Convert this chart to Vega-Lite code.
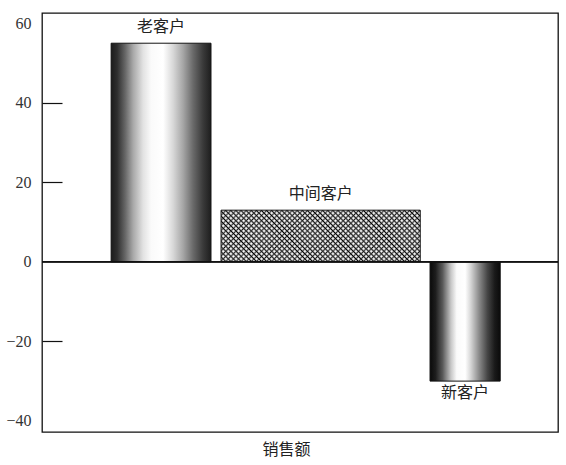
{
 "$schema": "https://vega.github.io/schema/vega-lite/v6.json",
 "width": 516,
 "height": 419,
 "autosize": {"type": "none"},
 "padding": {"left": 42, "top": 13, "right": 8, "bottom": 33},
 "config": {"view": {"stroke": "#111", "strokeWidth": 1.3}, "font": "Noto Sans CJK SC"},
 "data": {"values": [
  {"group": "老客户", "value": 55, "start": 13.4, "end": 32.75},
  {"group": "中间客户", "value": 13, "start": 34.7, "end": 73.3},
  {"group": "新客户", "value": -30, "start": 75.2, "end": 88.8}
 ]},
 "layer": [
  {
   "transform": [{"filter": "datum.group == '老客户'"}],
   "mark": {"type": "bar", "stroke": "#111", "strokeWidth": 1,
    "fill": {"gradient": "linear", "x1": 0, "y1": 0, "x2": 1, "y2": 0, "stops": [
     {"offset": 0, "color": "#1c1c1c"}, {"offset": 0.06, "color": "#2e2e2e"}, {"offset": 0.14, "color": "#666"},
     {"offset": 0.22, "color": "#a8a8a8"}, {"offset": 0.32, "color": "#e2e2e2"}, {"offset": 0.4, "color": "#fafafa"},
     {"offset": 0.52, "color": "#ffffff"}, {"offset": 0.62, "color": "#d8d8d8"}, {"offset": 0.72, "color": "#a6a6a6"},
     {"offset": 0.82, "color": "#6a6a6a"}, {"offset": 0.92, "color": "#3a3a3a"}, {"offset": 1, "color": "#1e1e1e"}]}},
   "encoding": {
    "x": {"field": "start", "type": "quantitative", "scale": {"domain": [0, 100], "nice": false, "zero": false},
     "axis": {"title": "销售额", "titleFont": "Noto Sans CJK SC", "titleFontSize": 16, "titleFontWeight": "normal", "titleColor": "#222",
      "labels": false, "ticks": false, "domain": false, "grid": false, "titlePadding": 9, "titleX": 244}},
    "x2": {"field": "end"},
    "y": {"field": "value", "type": "quantitative", "scale": {"domain": [-42.8, 62.6], "nice": false, "zero": false},
     "axis": {"values": [-40, -20, 0, 20, 40, 60], "title": null, "grid": false, "domain": false, "ticks": true,
      "tickSize": -20, "tickColor": "#111", "tickWidth": 1.2,
      "tickOpacity": {"condition": {"test": "datum.value == 60 || datum.value == -40 || datum.value == 0", "value": 0}, "value": 1},
      "labelFont": "Liberation Serif", "labelFontSize": 16, "labelColor": "#333", "labelPadding": 31}},
    "y2": {"datum": 0}
   }
  },
  {
   "transform": [{"filter": "datum.group == '新客户'"}],
   "mark": {"type": "bar", "stroke": "#111", "strokeWidth": 1,
    "fill": {"gradient": "linear", "x1": 0, "y1": 0, "x2": 1, "y2": 0, "stops": [
     {"offset": 0, "color": "#0a0a0a"}, {"offset": 0.08, "color": "#1e1e1e"}, {"offset": 0.18, "color": "#5a5a5a"},
     {"offset": 0.3, "color": "#c8c8c8"}, {"offset": 0.38, "color": "#fafafa"}, {"offset": 0.5, "color": "#ffffff"},
     {"offset": 0.58, "color": "#d6d6d6"}, {"offset": 0.7, "color": "#8a8a8a"}, {"offset": 0.82, "color": "#444"},
     {"offset": 0.92, "color": "#1a1a1a"}, {"offset": 1, "color": "#0a0a0a"}]}},
   "encoding": {
    "x": {"field": "start", "type": "quantitative"},
    "x2": {"field": "end"},
    "y": {"field": "value", "type": "quantitative"},
    "y2": {"datum": 0}
   }
  },
  {
   "transform": [{"filter": "datum.group == '中间客户'"}],
   "mark": {"type": "bar", "fill": "#ffffff", "strokeWidth": 0},
   "encoding": {
    "x": {"field": "start", "type": "quantitative"},
    "x2": {"field": "end"},
    "y": {"field": "value", "type": "quantitative"},
    "y2": {"datum": 0}
   }
  },
  {
   "transform": [{"filter": "datum.group == '中间客户'"}],
   "mark": {"type": "bar", "strokeWidth": 0,
    "fill": {"gradient": "linear", "x1": 0, "y1": 0, "x2": 1.2, "y2": 0.312, "stops": [
{"offset":0,"color":"#000"},{"offset":0.01,"color":"rgba(255,255,255,0)"},{"offset":0.02,"color":"#000"},{"offset":0.03,"color":"rgba(255,255,255,0)"},{"offset":0.04,"color":"#000"},{"offset":0.05,"color":"rgba(255,255,255,0)"},{"offset":0.06,"color":"#000"},{"offset":0.07,"color":"rgba(255,255,255,0)"},{"offset":0.08,"color":"#000"},{"offset":0.09,"color":"rgba(255,255,255,0)"},
{"offset":0.1,"color":"#000"},{"offset":0.11,"color":"rgba(255,255,255,0)"},{"offset":0.12,"color":"#000"},{"offset":0.13,"color":"rgba(255,255,255,0)"},{"offset":0.14,"color":"#000"},{"offset":0.15,"color":"rgba(255,255,255,0)"},{"offset":0.16,"color":"#000"},{"offset":0.17,"color":"rgba(255,255,255,0)"},{"offset":0.18,"color":"#000"},{"offset":0.19,"color":"rgba(255,255,255,0)"},
{"offset":0.2,"color":"#000"},{"offset":0.21,"color":"rgba(255,255,255,0)"},{"offset":0.22,"color":"#000"},{"offset":0.23,"color":"rgba(255,255,255,0)"},{"offset":0.24,"color":"#000"},{"offset":0.25,"color":"rgba(255,255,255,0)"},{"offset":0.26,"color":"#000"},{"offset":0.27,"color":"rgba(255,255,255,0)"},{"offset":0.28,"color":"#000"},{"offset":0.29,"color":"rgba(255,255,255,0)"},
{"offset":0.3,"color":"#000"},{"offset":0.31,"color":"rgba(255,255,255,0)"},{"offset":0.32,"color":"#000"},{"offset":0.33,"color":"rgba(255,255,255,0)"},{"offset":0.34,"color":"#000"},{"offset":0.35,"color":"rgba(255,255,255,0)"},{"offset":0.36,"color":"#000"},{"offset":0.37,"color":"rgba(255,255,255,0)"},{"offset":0.38,"color":"#000"},{"offset":0.39,"color":"rgba(255,255,255,0)"},
{"offset":0.4,"color":"#000"},{"offset":0.41,"color":"rgba(255,255,255,0)"},{"offset":0.42,"color":"#000"},{"offset":0.43,"color":"rgba(255,255,255,0)"},{"offset":0.44,"color":"#000"},{"offset":0.45,"color":"rgba(255,255,255,0)"},{"offset":0.46,"color":"#000"},{"offset":0.47,"color":"rgba(255,255,255,0)"},{"offset":0.48,"color":"#000"},{"offset":0.49,"color":"rgba(255,255,255,0)"},
{"offset":0.5,"color":"#000"},{"offset":0.51,"color":"rgba(255,255,255,0)"},{"offset":0.52,"color":"#000"},{"offset":0.53,"color":"rgba(255,255,255,0)"},{"offset":0.54,"color":"#000"},{"offset":0.55,"color":"rgba(255,255,255,0)"},{"offset":0.56,"color":"#000"},{"offset":0.57,"color":"rgba(255,255,255,0)"},{"offset":0.58,"color":"#000"},{"offset":0.59,"color":"rgba(255,255,255,0)"},
{"offset":0.6,"color":"#000"},{"offset":0.61,"color":"rgba(255,255,255,0)"},{"offset":0.62,"color":"#000"},{"offset":0.63,"color":"rgba(255,255,255,0)"},{"offset":0.64,"color":"#000"},{"offset":0.65,"color":"rgba(255,255,255,0)"},{"offset":0.66,"color":"#000"},{"offset":0.67,"color":"rgba(255,255,255,0)"},{"offset":0.68,"color":"#000"},{"offset":0.69,"color":"rgba(255,255,255,0)"},
{"offset":0.7,"color":"#000"},{"offset":0.71,"color":"rgba(255,255,255,0)"},{"offset":0.72,"color":"#000"},{"offset":0.73,"color":"rgba(255,255,255,0)"},{"offset":0.74,"color":"#000"},{"offset":0.75,"color":"rgba(255,255,255,0)"},{"offset":0.76,"color":"#000"},{"offset":0.77,"color":"rgba(255,255,255,0)"},{"offset":0.78,"color":"#000"},{"offset":0.79,"color":"rgba(255,255,255,0)"},
{"offset":0.8,"color":"#000"},{"offset":0.81,"color":"rgba(255,255,255,0)"},{"offset":0.82,"color":"#000"},{"offset":0.83,"color":"rgba(255,255,255,0)"},{"offset":0.84,"color":"#000"},{"offset":0.85,"color":"rgba(255,255,255,0)"},{"offset":0.86,"color":"#000"},{"offset":0.87,"color":"rgba(255,255,255,0)"},{"offset":0.88,"color":"#000"},{"offset":0.89,"color":"rgba(255,255,255,0)"},
{"offset":0.9,"color":"#000"},{"offset":0.91,"color":"rgba(255,255,255,0)"},{"offset":0.92,"color":"#000"},{"offset":0.93,"color":"rgba(255,255,255,0)"},{"offset":0.94,"color":"#000"},{"offset":0.95,"color":"rgba(255,255,255,0)"},{"offset":0.96,"color":"#000"},{"offset":0.97,"color":"rgba(255,255,255,0)"},{"offset":0.98,"color":"#000"},{"offset":0.99,"color":"rgba(255,255,255,0)"},{"offset":1,"color":"#000"}
    ]}},
   "encoding": {
    "x": {"field": "start", "type": "quantitative"},
    "x2": {"field": "end"},
    "y": {"field": "value", "type": "quantitative"},
    "y2": {"datum": 0}
   }
  },
  {
   "transform": [{"filter": "datum.group == '中间客户'"}],
   "mark": {"type": "bar", "stroke": "#111", "strokeWidth": 1,
    "fill": {"gradient": "linear", "x1": 0, "y1": 1, "x2": 1.2, "y2": 0.688, "stops": [
{"offset":0,"color":"#000"},{"offset":0.01,"color":"rgba(255,255,255,0)"},{"offset":0.02,"color":"#000"},{"offset":0.03,"color":"rgba(255,255,255,0)"},{"offset":0.04,"color":"#000"},{"offset":0.05,"color":"rgba(255,255,255,0)"},{"offset":0.06,"color":"#000"},{"offset":0.07,"color":"rgba(255,255,255,0)"},{"offset":0.08,"color":"#000"},{"offset":0.09,"color":"rgba(255,255,255,0)"},
{"offset":0.1,"color":"#000"},{"offset":0.11,"color":"rgba(255,255,255,0)"},{"offset":0.12,"color":"#000"},{"offset":0.13,"color":"rgba(255,255,255,0)"},{"offset":0.14,"color":"#000"},{"offset":0.15,"color":"rgba(255,255,255,0)"},{"offset":0.16,"color":"#000"},{"offset":0.17,"color":"rgba(255,255,255,0)"},{"offset":0.18,"color":"#000"},{"offset":0.19,"color":"rgba(255,255,255,0)"},
{"offset":0.2,"color":"#000"},{"offset":0.21,"color":"rgba(255,255,255,0)"},{"offset":0.22,"color":"#000"},{"offset":0.23,"color":"rgba(255,255,255,0)"},{"offset":0.24,"color":"#000"},{"offset":0.25,"color":"rgba(255,255,255,0)"},{"offset":0.26,"color":"#000"},{"offset":0.27,"color":"rgba(255,255,255,0)"},{"offset":0.28,"color":"#000"},{"offset":0.29,"color":"rgba(255,255,255,0)"},
{"offset":0.3,"color":"#000"},{"offset":0.31,"color":"rgba(255,255,255,0)"},{"offset":0.32,"color":"#000"},{"offset":0.33,"color":"rgba(255,255,255,0)"},{"offset":0.34,"color":"#000"},{"offset":0.35,"color":"rgba(255,255,255,0)"},{"offset":0.36,"color":"#000"},{"offset":0.37,"color":"rgba(255,255,255,0)"},{"offset":0.38,"color":"#000"},{"offset":0.39,"color":"rgba(255,255,255,0)"},
{"offset":0.4,"color":"#000"},{"offset":0.41,"color":"rgba(255,255,255,0)"},{"offset":0.42,"color":"#000"},{"offset":0.43,"color":"rgba(255,255,255,0)"},{"offset":0.44,"color":"#000"},{"offset":0.45,"color":"rgba(255,255,255,0)"},{"offset":0.46,"color":"#000"},{"offset":0.47,"color":"rgba(255,255,255,0)"},{"offset":0.48,"color":"#000"},{"offset":0.49,"color":"rgba(255,255,255,0)"},
{"offset":0.5,"color":"#000"},{"offset":0.51,"color":"rgba(255,255,255,0)"},{"offset":0.52,"color":"#000"},{"offset":0.53,"color":"rgba(255,255,255,0)"},{"offset":0.54,"color":"#000"},{"offset":0.55,"color":"rgba(255,255,255,0)"},{"offset":0.56,"color":"#000"},{"offset":0.57,"color":"rgba(255,255,255,0)"},{"offset":0.58,"color":"#000"},{"offset":0.59,"color":"rgba(255,255,255,0)"},
{"offset":0.6,"color":"#000"},{"offset":0.61,"color":"rgba(255,255,255,0)"},{"offset":0.62,"color":"#000"},{"offset":0.63,"color":"rgba(255,255,255,0)"},{"offset":0.64,"color":"#000"},{"offset":0.65,"color":"rgba(255,255,255,0)"},{"offset":0.66,"color":"#000"},{"offset":0.67,"color":"rgba(255,255,255,0)"},{"offset":0.68,"color":"#000"},{"offset":0.69,"color":"rgba(255,255,255,0)"},
{"offset":0.7,"color":"#000"},{"offset":0.71,"color":"rgba(255,255,255,0)"},{"offset":0.72,"color":"#000"},{"offset":0.73,"color":"rgba(255,255,255,0)"},{"offset":0.74,"color":"#000"},{"offset":0.75,"color":"rgba(255,255,255,0)"},{"offset":0.76,"color":"#000"},{"offset":0.77,"color":"rgba(255,255,255,0)"},{"offset":0.78,"color":"#000"},{"offset":0.79,"color":"rgba(255,255,255,0)"},
{"offset":0.8,"color":"#000"},{"offset":0.81,"color":"rgba(255,255,255,0)"},{"offset":0.82,"color":"#000"},{"offset":0.83,"color":"rgba(255,255,255,0)"},{"offset":0.84,"color":"#000"},{"offset":0.85,"color":"rgba(255,255,255,0)"},{"offset":0.86,"color":"#000"},{"offset":0.87,"color":"rgba(255,255,255,0)"},{"offset":0.88,"color":"#000"},{"offset":0.89,"color":"rgba(255,255,255,0)"},
{"offset":0.9,"color":"#000"},{"offset":0.91,"color":"rgba(255,255,255,0)"},{"offset":0.92,"color":"#000"},{"offset":0.93,"color":"rgba(255,255,255,0)"},{"offset":0.94,"color":"#000"},{"offset":0.95,"color":"rgba(255,255,255,0)"},{"offset":0.96,"color":"#000"},{"offset":0.97,"color":"rgba(255,255,255,0)"},{"offset":0.98,"color":"#000"},{"offset":0.99,"color":"rgba(255,255,255,0)"},{"offset":1,"color":"#000"}
    ]}},
   "encoding": {
    "x": {"field": "start", "type": "quantitative"},
    "x2": {"field": "end"},
    "y": {"field": "value", "type": "quantitative"},
    "y2": {"datum": 0}
   }
  },
  {
   "mark": {"type": "rule", "stroke": "#111", "strokeWidth": 1.3},
   "encoding": {"y": {"datum": 0, "type": "quantitative"}}
  },
  {
   "transform": [{"filter": "datum.value > 0"}, {"calculate": "(datum.start + datum.end) / 2", "as": "mid"}],
   "mark": {"type": "text", "baseline": "bottom", "dy": -8, "fontSize": 16, "font": "Noto Sans CJK SC", "color": "#222"},
   "encoding": {
    "x": {"field": "mid", "type": "quantitative"},
    "y": {"field": "value", "type": "quantitative"},
    "text": {"field": "group"}
   }
  },
  {
   "transform": [{"filter": "datum.value < 0"}, {"calculate": "(datum.start + datum.end) / 2", "as": "mid"}],
   "mark": {"type": "text", "baseline": "top", "dy": 4, "fontSize": 16, "font": "Noto Sans CJK SC", "color": "#222"},
   "encoding": {
    "x": {"field": "mid", "type": "quantitative"},
    "y": {"field": "value", "type": "quantitative"},
    "text": {"field": "group"}
   }
  }
 ]
}
